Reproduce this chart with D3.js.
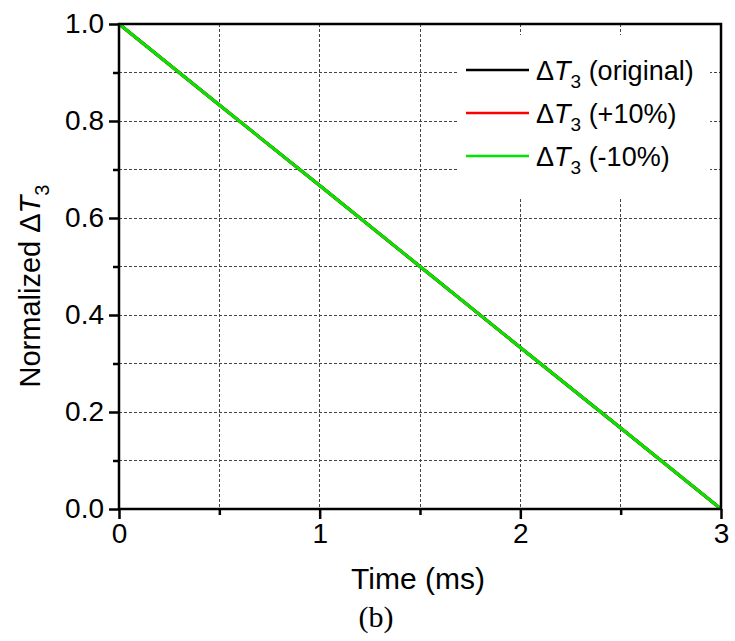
<!DOCTYPE html>
<html>
<head>
<meta charset="utf-8">
<script src="https://cdn.jsdelivr.net/npm/d3@7"></script>
<style>
  html, body { margin: 0; padding: 0; background: #fff; }
  svg { display: block; }
</style>
</head>
<body>
<svg id="chart" width="735" height="641"></svg>
<script>
// ---- data ----
const timeMs = [0, 0.5, 1, 1.5, 2, 2.5, 3];
const original = [1, 0.833, 0.667, 0.5, 0.333, 0.167, 0];
const plus10 = [1, 0.833, 0.667, 0.5, 0.333, 0.167, 0];
const minus10 = [1, 0.833, 0.667, 0.5, 0.333, 0.167, 0];
const seriesNames = ["original", "+10%", "-10%"];
const seriesColors = ["#000000", "#ff0000", "#00e600"];
const xTicks = [0, 1, 2, 3];
const xMinorTicks = [0.5, 1.5, 2.5];
const yTicks = [0, 0.2, 0.4, 0.6, 0.8, 1.0];
const yMinorTicks = [0.1, 0.3, 0.5, 0.7, 0.9];

const series = [original, plus10, minus10];

const svg = d3.select("#chart");
const L = 119, R = 721, T = 24, B = 509;
const x = d3.scaleLinear().domain([0, 3]).range([L, R]);
const y = d3.scaleLinear().domain([0, 1]).range([B, T]);

const font = "'Liberation Sans', Arial, sans-serif";

// gridlines
const grid = svg.append("g").attr("stroke", "#444").attr("stroke-width", 1)
  .attr("stroke-dasharray", "3,2").attr("shape-rendering", "crispEdges");
[0.5, 1, 1.5, 2, 2.5].forEach(v => {
  grid.append("line").attr("x1", x(v)).attr("x2", x(v)).attr("y1", T).attr("y2", B);
});
[0.1, 0.2, 0.3, 0.4, 0.5, 0.6, 0.7, 0.8, 0.9].forEach(v => {
  grid.append("line").attr("x1", L).attr("x2", R).attr("y1", y(v)).attr("y2", y(v));
});

// legend background (hides gridlines)
svg.append("rect").attr("x", 458).attr("y", 35).attr("width", 252).attr("height", 162).attr("fill", "#fff");

// lines
const line = d3.line().x((d, i) => x(timeMs[i])).y(d => y(d));
series.forEach((s, k) => {
  svg.append("path").datum(s).attr("d", line).attr("fill", "none")
    .attr("stroke", seriesColors[k]).attr("stroke-width", 3);
});

// axes
const xAxis = d3.axisBottom(x).tickValues(xTicks).tickFormat(d3.format("d")).tickSize(10).tickPadding(4);
const gx = svg.append("g").attr("transform", `translate(0,${B})`).call(xAxis);
gx.select(".domain").remove();
gx.selectAll(".tick line").attr("stroke", "#000").attr("stroke-width", 2.5);
gx.selectAll(".tick text").attr("font-family", font).attr("font-size", 28).attr("fill", "#000");
const xMinor = d3.axisBottom(x).tickValues(xMinorTicks).tickFormat("").tickSize(6);
const gxm = svg.append("g").attr("transform", `translate(0,${B})`).call(xMinor);
gxm.select(".domain").remove();
gxm.selectAll(".tick line").attr("stroke", "#000").attr("stroke-width", 2.5);

const yAxis = d3.axisLeft(y).tickValues(yTicks).tickFormat(d3.format(".1f")).tickSize(10).tickPadding(5);
const gy = svg.append("g").attr("transform", `translate(${L},0)`).call(yAxis);
gy.select(".domain").remove();
gy.selectAll(".tick line").attr("stroke", "#000").attr("stroke-width", 2.5);
gy.selectAll(".tick text").attr("font-family", font).attr("font-size", 28).attr("fill", "#000");
const yMinor = d3.axisLeft(y).tickValues(yMinorTicks).tickFormat("").tickSize(6);
const gym = svg.append("g").attr("transform", `translate(${L},0)`).call(yMinor);
gym.select(".domain").remove();
gym.selectAll(".tick line").attr("stroke", "#000").attr("stroke-width", 2.5);

// frame
svg.append("rect").attr("x", L).attr("y", T).attr("width", R - L).attr("height", B - T)
  .attr("fill", "none").attr("stroke", "#000").attr("stroke-width", 2.5);

// legend
const legY = [70, 113, 156];
series.forEach((s, k) => {
  svg.append("line").attr("x1", 466).attr("x2", 529).attr("y1", legY[k]).attr("y2", legY[k])
    .attr("stroke", seriesColors[k]).attr("stroke-width", 2.5);
  const t = svg.append("text").attr("x", 536).attr("y", legY[k] + 10)
    .attr("font-family", font).attr("font-size", 27).attr("fill", "#000");
  t.append("tspan").text("\u0394");
  t.append("tspan").attr("font-style", "italic").text("T");
  t.append("tspan").attr("font-size", 19).attr("dy", 8).text("3");
  t.append("tspan").attr("dy", -8).text(" (" + seriesNames[k] + ")");
});

// axis titles
const xt = svg.append("text").attr("x", 418).attr("y", 589).attr("text-anchor", "middle")
  .attr("font-family", font).attr("font-size", 30).attr("fill", "#000").text("Time (ms)");

const yt = svg.append("text").attr("transform", "translate(40,286) rotate(-90)")
  .attr("text-anchor", "middle").attr("font-family", font).attr("font-size", 29).attr("fill", "#000");
yt.append("tspan").text("Normalized \u0394");
yt.append("tspan").attr("font-style", "italic").text("T");
yt.append("tspan").attr("font-size", 20).attr("dy", 9).text("3");

svg.append("text").attr("x", 376).attr("y", 627).attr("text-anchor", "middle")
  .attr("font-family", "'Liberation Serif', 'Times New Roman', serif").attr("font-size", 30)
  .attr("fill", "#000").text("(b)");
</script>
</body>
</html>
